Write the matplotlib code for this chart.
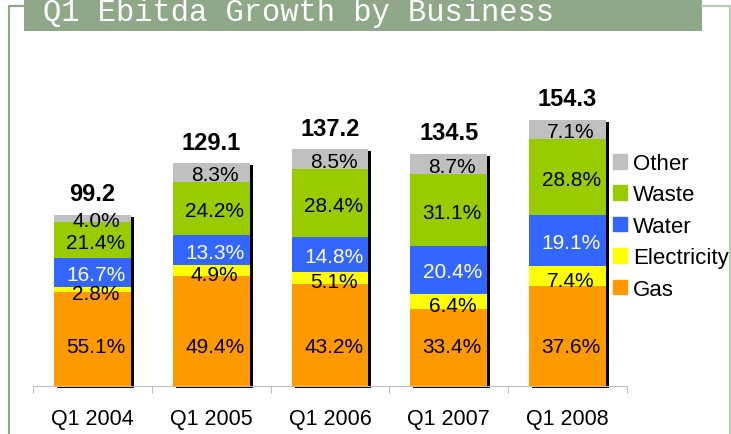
import numpy as np
import matplotlib.pyplot as plt
from matplotlib.patches import Patch, Rectangle
from matplotlib.lines import Line2D
from matplotlib.transforms import offset_copy

plt.rcParams['font.family'] = ['Liberation Sans', 'DejaVu Sans']

quarters = ['Q1 2004', 'Q1 2005', 'Q1 2006', 'Q1 2007', 'Q1 2008']
totals = [99.2, 129.1, 137.2, 134.5, 154.3]

# share of each business in %, bottom to top
gas = [55.1, 49.4, 43.2, 33.4, 37.6]
electricity = [2.8, 4.9, 5.1, 6.4, 7.4]
water = [16.7, 13.3, 14.8, 20.4, 19.1]
waste = [21.4, 24.2, 28.4, 31.1, 28.8]
other = [4.0, 8.3, 8.5, 8.7, 7.1]

names = ['Gas', 'Electricity', 'Water', 'Waste', 'Other']
shares = [gas, electricity, water, waste, other]
colors = ['#FF9900', '#FFFF00', '#3366FF', '#99CC00', '#C0C0C0']
text_colors = ['black', 'black', 'white', 'black', 'black']

W, H = 731, 435
fig = plt.figure(figsize=(W / 100, H / 100), dpi=100)

### frame and title band (pixel coords -> figure fraction)
green = '#8EA888'
def px(xs, ys):
    return [v / W for v in xs], [(H - v) / H for v in ys]
fx, fy = px([9, 9, 24], [435, 7, 7])
fig.add_artist(Line2D(fx, fy, color=green, lw=1.6))
fx, fy = px([702, 730, 730], [7, 7, 435])
fig.add_artist(Line2D(fx, fy, color='#B9CBB5', lw=1.6))
fig.add_artist(Rectangle((24 / W, (H - 32) / H), 678 / W, 32 / H,
                         transform=fig.transFigure, color=green, lw=0))
fig.text(43 / W, (H - 21.5) / H, 'Q1 Ebitda Growth by Business', color='white',
         fontsize=22, family='Liberation Mono', va='baseline', ha='left')

ax = fig.add_axes([33 / W, (H - 387) / H, 594 / W, 345 / H])
ax.set_xlim(-0.5, 4.5)
ax.set_ylim(0, 200)

x = np.arange(len(quarters))
bw = 0.645

# drop shadow behind each bar
shadow = offset_copy(ax.transData, fig=fig, x=3, y=-2, units='dots')
ax.bar(x, totals, width=bw, color='black', transform=shadow, clip_on=False, zorder=1)

bottom = np.zeros(len(x))
for name, share, c, tc in zip(names, shares, colors, text_colors):
    h = np.array(totals) * np.array(share) / 100
    ax.bar(x, h, width=bw, bottom=bottom, color=c, zorder=2, label=name)
    for i in range(len(x)):
        ypos = bottom[i] + h[i] / 2
        dy = 0
        if name == 'Gas':
            ypos = 24      # excel puts the gas labels on one line
        elif name == 'Electricity':
            dy = -2
        ax.annotate('%.1f%%' % share[i], (x[i] + 0.03, ypos), xytext=(0, dy),
                    textcoords='offset pixels', ha='center', va='center_baseline',
                    fontsize=15, color=tc, zorder=3)
    bottom += h

for i in range(len(x)):
    ax.annotate('%.1f' % totals[i], (x[i], totals[i]), xytext=(0, 14.5),
                textcoords='offset pixels', ha='center', va='baseline',
                fontsize=17, fontweight='bold')

for s in ['left', 'right', 'top']:
    ax.spines[s].set_visible(False)
ax.spines['bottom'].set_color('#BFBFBF')
ax.set_yticks([])
ax.set_xticks(np.arange(-0.5, 5, 1))
ax.set_xticklabels([])
ax.set_xticks(x, minor=True)
ax.set_xticklabels(quarters, minor=True, fontsize=15.5)
ax.tick_params(axis='x', which='major', length=5, color='#BFBFBF', direction='out')
ax.tick_params(axis='x', which='minor', length=0, pad=16)

handles = [Patch(color=c) for c in colors][::-1]
fig.legend(handles, names[::-1], loc='upper left', bbox_to_anchor=(613 / W, (H - 154) / H),
           frameon=False, fontsize=16, handlelength=0.64, handleheight=0.64,
           handletextpad=0.25, labelspacing=0.47, borderpad=0, borderaxespad=0)

plt.savefig('out.png', dpi=100)
